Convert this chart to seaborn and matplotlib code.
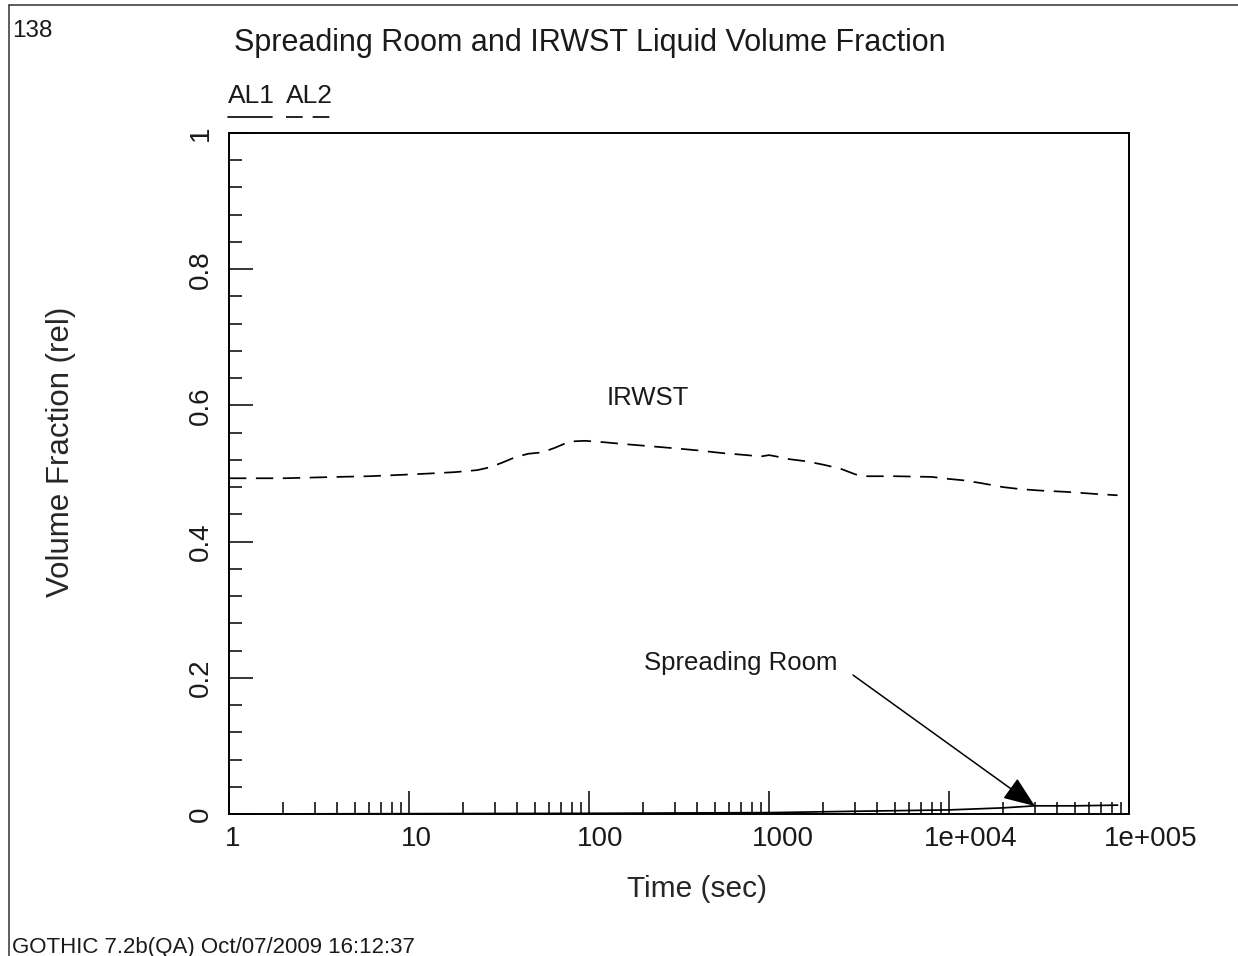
import numpy as np
import pandas as pd
import matplotlib
matplotlib.use("Agg")
import matplotlib.pyplot as plt
import seaborn as sns
from matplotlib.ticker import FixedLocator, FixedFormatter, LogLocator, NullFormatter, MultipleLocator
from matplotlib.lines import Line2D
from matplotlib.transforms import ScaledTranslation

# ---------------- data ----------------
irwst_time = [1, 2, 4, 6, 9, 13, 18, 24, 28, 33, 39, 46, 55, 65, 78, 95, 120, 160, 220, 300,
              400, 550, 750, 900, 1000, 1100, 1300, 1600, 2000, 2500, 3000, 3300, 5000, 8000,
              10000, 12000, 15000, 20000, 25000, 32000, 45000, 65000, 86400]
irwst_vf = [0.493, 0.493, 0.495, 0.496, 0.498, 0.500, 0.502, 0.505, 0.509, 0.516, 0.524, 0.529,
            0.531, 0.538, 0.547, 0.548, 0.546, 0.543, 0.540, 0.537, 0.534, 0.530, 0.527, 0.525,
            0.527, 0.525, 0.521, 0.518, 0.513, 0.507, 0.499, 0.496, 0.496, 0.495, 0.492, 0.490,
            0.486, 0.480, 0.477, 0.475, 0.473, 0.470, 0.468]

spread_time = [1, 10, 100, 1000, 3000, 10000, 20000, 30000, 50000, 86400]
spread_vf = [0.0, 0.0005, 0.001, 0.002, 0.004, 0.006, 0.009, 0.012, 0.012, 0.013]

x_ticks = [1, 10, 100, 1000, 10000, 100000]
x_tick_labels = ["1", "10", "100", "1000", "1e+004", "1e+005"]
y_ticks = [0, 0.2, 0.4, 0.6, 0.8, 1.0]
y_tick_labels = ["0", "0.2", "0.4", "0.6", "0.8", "1"]

series_names = ["AL1", "AL2"]

df = pd.concat([
    pd.DataFrame({"time": spread_time, "vf": spread_vf, "series": series_names[0]}),
    pd.DataFrame({"time": irwst_time, "vf": irwst_vf, "series": series_names[1]}),
], ignore_index=True)

# ---------------- style ----------------
sns.set_theme(style="ticks")
plt.rcParams["font.family"] = ["Liberation Sans", "DejaVu Sans"]
plt.rcParams["text.color"] = "#1a1a1a"

W, H = 1238, 956
fig = plt.figure(figsize=(W / 100, H / 100), dpi=100)
fig.patch.set_facecolor("white")
ax = fig.add_axes([229 / W, 1 - 814 / H, 900 / W, 681 / H])
ax.set_facecolor("white")

sns.lineplot(data=df, x="time", y="vf", style="series",
             dashes={"AL1": "", "AL2": (10, 5.5)}, color="black", linewidth=1.25,
             legend=False, errorbar=None, ax=ax)

ax.set_xscale("log")
ax.set_xlim(1, 1e5)
ax.set_ylim(0, 1)

ax.xaxis.set_major_locator(FixedLocator(x_ticks))
ax.xaxis.set_major_formatter(FixedFormatter(x_tick_labels))
ax.xaxis.set_minor_locator(LogLocator(base=10, subs=np.arange(2, 10), numticks=20))
ax.xaxis.set_minor_formatter(NullFormatter())
ax.yaxis.set_major_locator(FixedLocator(y_ticks))
ax.yaxis.set_major_formatter(FixedFormatter(y_tick_labels))
ax.yaxis.set_minor_locator(MultipleLocator(0.04))

ax.tick_params(axis="x", which="major", direction="in", length=16.5, width=1.1, pad=9,
               labelsize=20, bottom=True, top=False, color="black", labelcolor="#1a1a1a")
ax.tick_params(axis="x", which="minor", direction="in", length=8.6, width=1.1,
               bottom=True, top=False, color="black")
ax.tick_params(axis="y", which="major", direction="in", length=17, width=1.1, pad=11,
               labelsize=20, left=True, right=False, labelrotation=90, color="black",
               labelcolor="#1a1a1a")
ax.tick_params(axis="y", which="minor", direction="in", length=9, width=1.1,
               left=True, right=False, color="black")
for lbl in ax.get_yticklabels():
    lbl.set_verticalalignment("center")

for s in ax.spines.values():
    s.set_visible(True)
    s.set_color("black")
    s.set_linewidth(1.4)

ax.set_xlabel("Time (sec)", fontsize=21.5)
ax.set_ylabel("Volume Fraction (rel)", fontsize=22.5)
ax.xaxis.set_label_coords(0.52, -0.09)
ax.yaxis.set_label_coords(-0.17, 0.532)

# annotations
ax.text(211, 0.6006, "IRWST", fontsize=18.5, ha="center", va="baseline")
ax.text(700, 0.2115, "Spreading Room", fontsize=18.5, ha="center", va="baseline")
ax.annotate("", xy=(30000, 0.0117), xytext=(2930, 0.204),
            arrowprops=dict(arrowstyle="-|>,head_length=1.4,head_width=0.55",
                            color="black", lw=1.1, shrinkA=0, shrinkB=0,
                            mutation_scale=14))

# title and page text
fig.text(590 / W, 1 - 51 / H, "Spreading Room and IRWST Liquid Volume Fraction",
         fontsize=22, ha="center", va="baseline")
fig.text(12 / W, 1 - 37 / H, "138", fontsize=17.5, ha="left", va="baseline")
fig.text(12 / W, 1 - 953 / H, "GOTHIC 7.2b(QA) Oct/07/2009 16:12:37", fontsize=16,
         ha="left", va="baseline")

# legend header
fig.text(228 / W, 1 - 103 / H, series_names[0], fontsize=19, ha="left", va="baseline")
fig.text(286 / W, 1 - 103 / H, series_names[1], fontsize=19, ha="left", va="baseline")
fig.add_artist(Line2D([228 / W, 272 / W], [1 - 117 / H, 1 - 117 / H], color="black",
                      lw=1.2, transform=fig.transFigure))
fig.add_artist(Line2D([286 / W, 330 / W], [1 - 117 / H, 1 - 117 / H], color="black",
                      lw=1.2, linestyle=(0, (10, 6)), transform=fig.transFigure))

# page border (left and top)
fig.add_artist(Line2D([9 / W, 9 / W], [0, 1 - 5 / H], color="#333333", lw=1.1,
                      transform=fig.transFigure))
fig.add_artist(Line2D([9 / W, 1], [1 - 5 / H, 1 - 5 / H], color="#333333", lw=1.1,
                      transform=fig.transFigure))

# shift x tick labels slightly right, as in the reference
fig.canvas.draw()
for tick in ax.xaxis.get_major_ticks():
    w = tick.label1.get_window_extent().width
    tick.label1.set_transform(tick.label1.get_transform() +
                              ScaledTranslation(0.23 * w / 100, 0, fig.dpi_scale_trans))

fig.savefig("out.png", dpi=100, facecolor="white")
